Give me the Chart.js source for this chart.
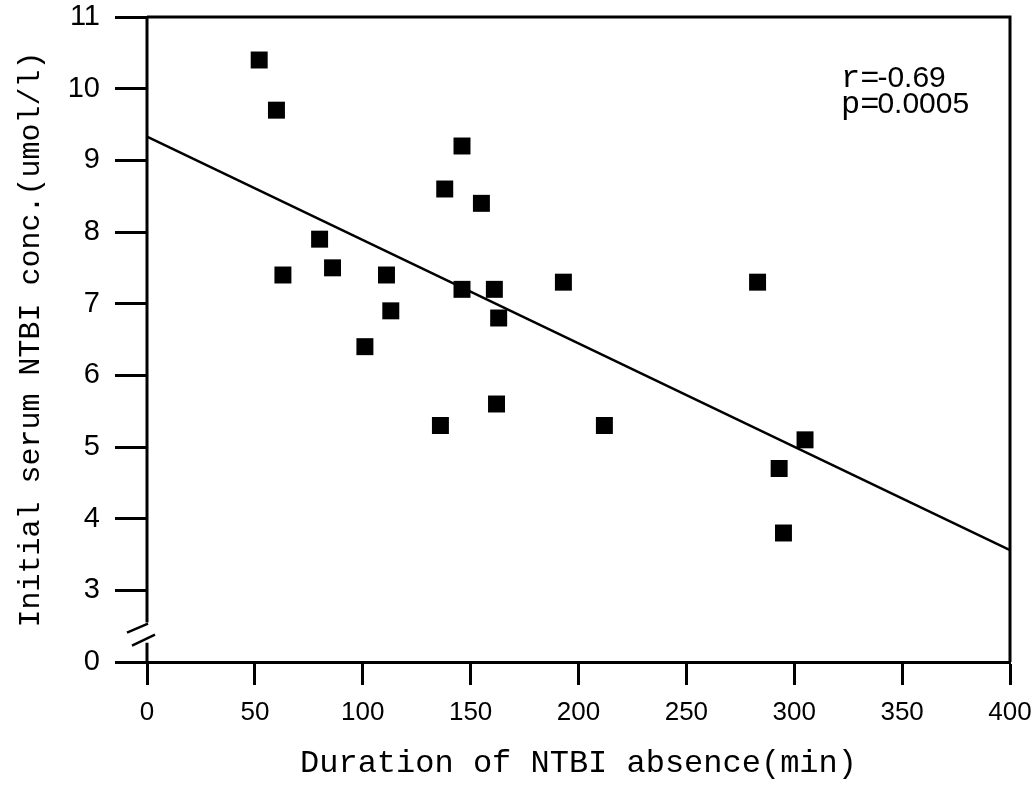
<!DOCTYPE html>
<html>
<head>
<meta charset="utf-8">
<script src="https://cdn.jsdelivr.net/npm/chart.js@4.4.1/dist/chart.umd.min.js"></script>
<style>
  html, body { margin: 0; padding: 0; background: #fff; }
</style>
</head>
<body>
<canvas id="myChart" width="1036" height="791"></canvas>
<script>
// values
const durationMin = [52, 60, 63, 80, 86, 101, 111, 113, 136, 138, 146, 146, 155, 161, 162, 163, 193, 212, 283, 293, 295, 305];
const ntbiConc    = [10.4, 9.7, 7.4, 7.9, 7.5, 6.4, 7.4, 6.9, 5.3, 8.6, 9.2, 7.2, 8.4, 7.2, 5.6, 6.8, 7.3, 5.3, 7.3, 4.7, 3.8, 5.1];

// regression line end points
const fitX = [0, 400];
const fitY = [9.33, 3.56];

// y axis is broken below 3; the lowest tick stands for 0
const yTickValues = [2, 3, 4, 5, 6, 7, 8, 9, 10, 11];
const yTickLabels = ['0', '3', '4', '5', '6', '7', '8', '9', '10', '11'];

const statLines = [['r=', '-0.69'], ['p=', '0.0005']];

const framePlugin = {
    id: 'frame',
    afterDraw(chart) {
        const ctx = chart.ctx;
        const a = chart.chartArea;
        const yScale = chart.scales.y;
        const breakTop = yScale.getPixelForValue(2.55);
        const breakBottom = yScale.getPixelForValue(2.27);
        ctx.save();
        ctx.strokeStyle = '#000';
        ctx.lineWidth = 3;
        ctx.beginPath();
        // top + right border
        ctx.moveTo(a.left, a.top);
        ctx.lineTo(a.right, a.top);
        ctx.lineTo(a.right, a.bottom);
        // left spine with a break
        ctx.moveTo(a.left, a.top);
        ctx.lineTo(a.left, breakTop);
        ctx.moveTo(a.left, breakBottom);
        ctx.lineTo(a.left, a.bottom);
        ctx.stroke();
        // break slashes
        ctx.lineWidth = 2.5;
        ctx.beginPath();
        ctx.moveTo(a.left - 20, breakTop + 10);
        ctx.lineTo(a.left + 1, breakTop + 1);
        ctx.moveTo(a.left - 15, breakTop + 23);
        ctx.lineTo(a.left + 8, breakTop + 12);
        ctx.stroke();

        // r / p text
        ctx.fillStyle = '#000';
        ctx.textBaseline = 'alphabetic';
        let ty = a.top + 70;
        statLines.forEach(function(l) {
            ctx.font = '32px "Liberation Mono"';
            ctx.fillText(l[0], a.left + 694, ty);
            const w = ctx.measureText(l[0]).width;
            ctx.font = '30px "Liberation Sans"';
            ctx.fillText(l[1], a.left + 694 + w - 2, ty);
            ty += 26;
        });
        ctx.restore();
    }
};

const points = durationMin.map((x, i) => ({ x: x, y: ntbiConc[i] }));
const fitLine = fitX.map((x, i) => ({ x: x, y: fitY[i] }));

const ctx = document.getElementById('myChart').getContext('2d');
new Chart(ctx, {
    type: 'scatter',
    data: {
        datasets: [
            {
                type: 'line',
                data: fitLine,
                borderColor: '#000',
                borderWidth: 2.5,
                pointRadius: 0,
                fill: false
            },
            {
                data: points,
                pointStyle: 'rect',
                pointRadius: 12,
                backgroundColor: '#000',
                borderColor: '#000',
                borderWidth: 0
            }
        ]
    },
    options: {
        responsive: false,
        animation: false,
        layout: { padding: { left: 0, right: 26, top: 17, bottom: 0 } },
        plugins: {
            legend: { display: false },
            tooltip: { enabled: false }
        },
        scales: {
            x: {
                type: 'linear',
                min: 0,
                max: 400,
                ticks: {
                    stepSize: 50,
                    color: '#000',
                    padding: 12,
                    font: { family: 'Liberation Sans', size: 26 }
                },
                grid: { drawOnChartArea: false, tickLength: 23, tickWidth: 3, tickColor: '#000' },
                border: { display: true, color: '#000', width: 3 },
                title: {
                    display: true,
                    text: 'Duration of NTBI absence(min)',
                    color: '#000',
                    font: { family: 'Liberation Mono', size: 32 },
                    padding: { top: 0, bottom: 8 }
                },
                afterFit: function(s) {
                    s.height = 129;
                    s.paddingLeft = 0;
                    s.paddingRight = 0;
                }
            },
            y: {
                type: 'linear',
                min: 2,
                max: 11,
                afterBuildTicks: function(s) { s.ticks = yTickValues.map(v => ({ value: v })); },
                ticks: {
                    color: '#000',
                    padding: 15,
                    font: { family: 'Liberation Sans', size: 29 },
                    callback: function(v) { return yTickLabels[yTickValues.indexOf(v)]; }
                },
                grid: { drawOnChartArea: false, tickLength: 32, tickWidth: 3, tickColor: '#000' },
                border: { display: false },
                title: {
                    display: true,
                    text: 'Initial serum NTBI conc.(umol/l)',
                    color: '#000',
                    font: { family: 'Liberation Mono', size: 30 },
                    padding: { top: 13, bottom: 0 }
                },
                afterFit: function(s) {
                    s.width = 147;
                    s.paddingTop = 0;
                    s.paddingBottom = 0;
                }
            }
        }
    },
    plugins: [framePlugin]
});
</script>
</body>
</html>
